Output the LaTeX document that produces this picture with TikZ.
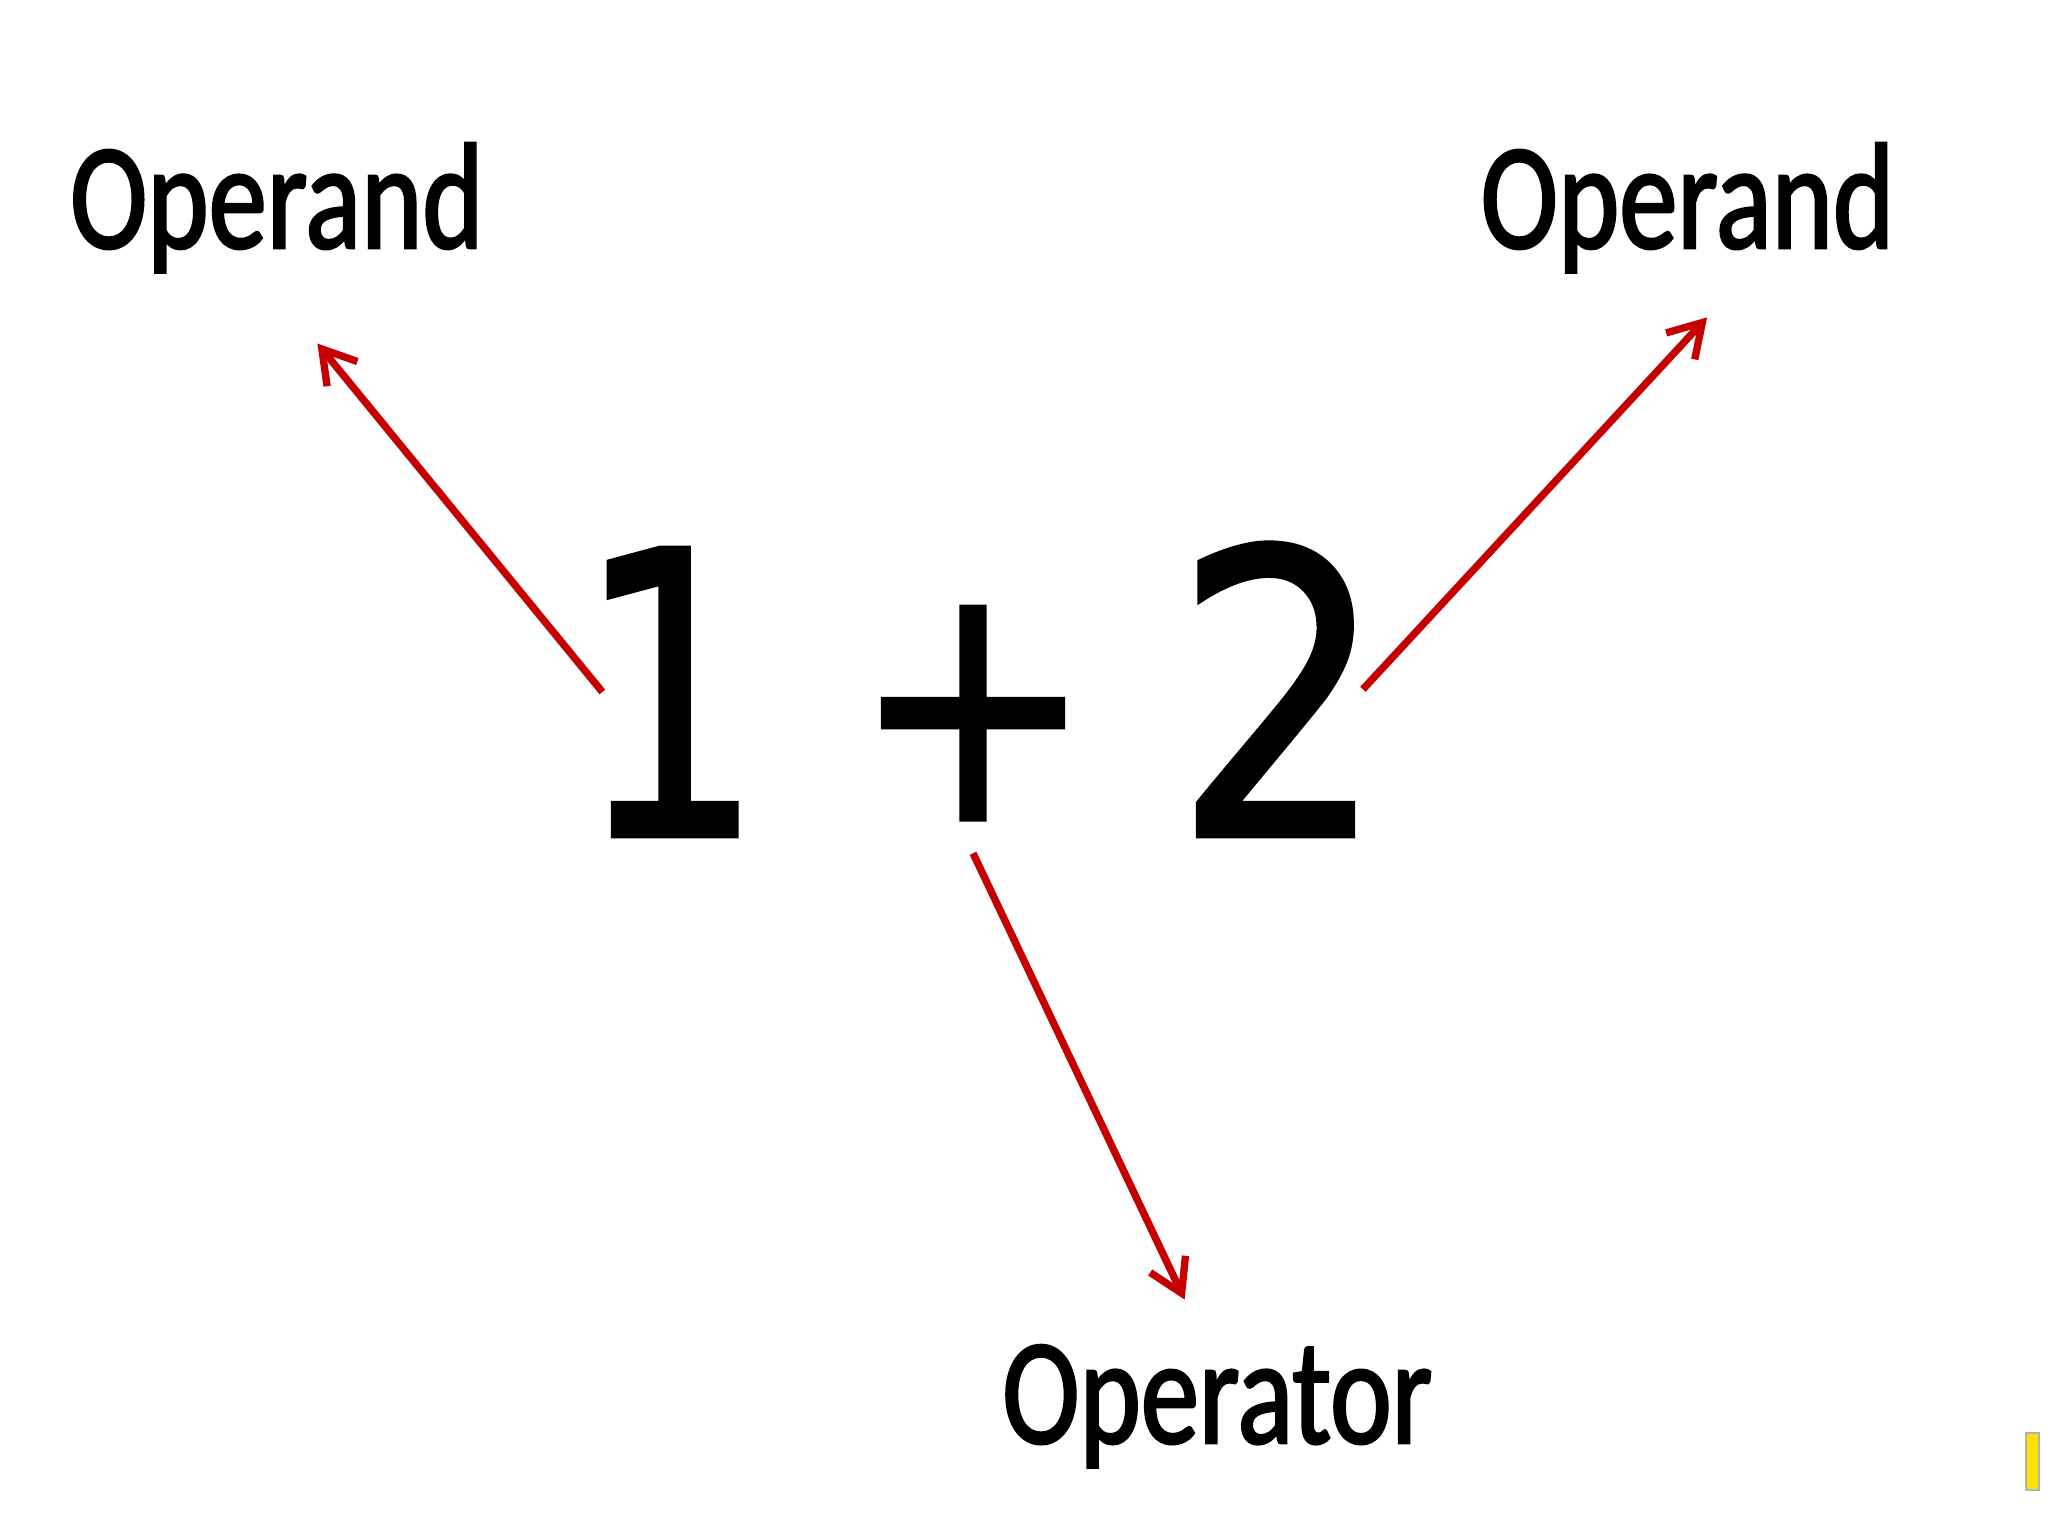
\documentclass[tikz,border=0pt]{standalone}
\usepackage{fontspec}
\usetikzlibrary{arrows.meta}
\newfontfamily\labelfont[FakeStretch=0.77,FakeBold=1.6]{Carlito}
\newfontfamily\digitfont[FakeBold=1.2]{DejaVu Sans}
\definecolor{arrowred}{RGB}{198,0,0}
\begin{document}
\begin{tikzpicture}[x=0.01cm,y=-0.01cm,
  lbl/.style={inner sep=0pt, font=\labelfont\fontsize{33}{36}\selectfont},
  dig/.style={inner sep=0pt, font=\digitfont\fontsize{86}{90}\selectfont},
  arr/.style={draw=arrowred, line width=1.6pt, -{Straight Barb[length=7pt,width=8.5pt]}}]
\useasboundingbox[fill=white] (0,0) rectangle (1568,1176);
\node[lbl, anchor=base] (opl) at (212,190) {Operand};
\node[lbl, anchor=base] (opr) at (1292,190) {Operand};
\node[lbl, anchor=base] (op) at (932,1105) {Operator};
\node[dig, anchor=base] (n1) at (513,640) {\scalebox{0.75}[1]{1}};
\node[dig, anchor=center] (plus) at (745,546) {\scalebox{0.85}[1]{\fontsize{74}{80}\selectfont +}};
\node[dig, anchor=base] (n2) at (980,640) {\scalebox{0.85}[1]{2}};
\coordinate (t1) at (243,263);
\coordinate (t2) at (1307,243);
\coordinate (t3) at (907,995);
\draw[arr] ([xshift=0.21cm]n1.west) -- (t1);
\draw[arr] ([xshift=-0.19cm]n2.east) -- (t2);
\draw[arr] ([yshift=-0.25cm]plus.south) -- (t3);
\fill[yellow!85!orange, draw=gray!60] (1551,1097) rectangle (1561,1141);
\end{tikzpicture}
\end{document}
